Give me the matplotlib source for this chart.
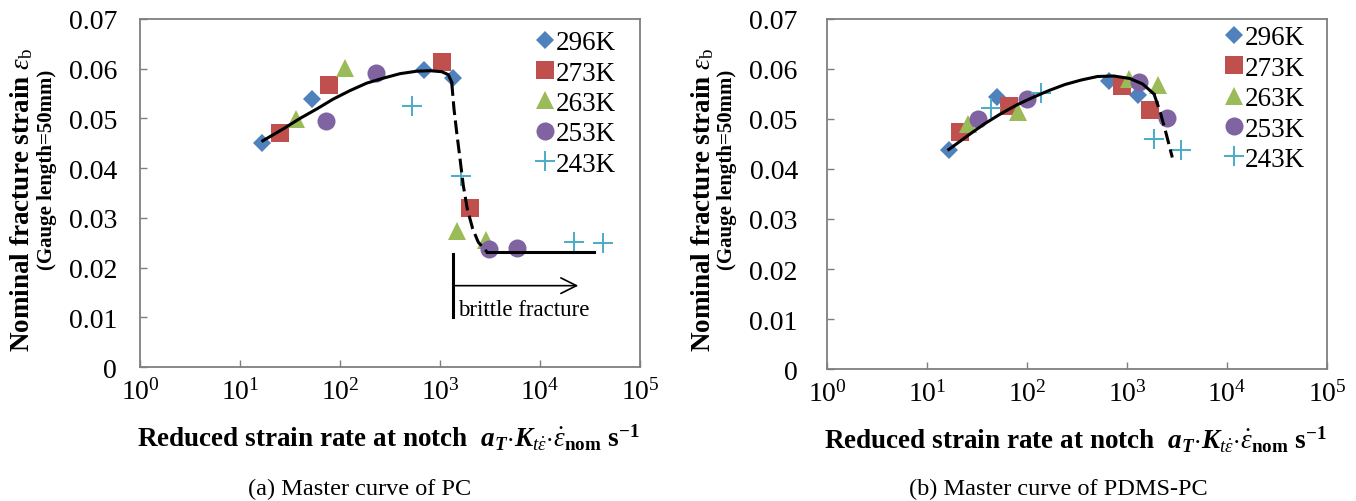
import matplotlib
matplotlib.use("Agg")
import matplotlib.pyplot as plt

plt.rcParams['font.family'] = ['Liberation Serif', 'DejaVu Serif']
plt.rcParams['mathtext.fontset'] = 'custom'
plt.rcParams['mathtext.rm'] = 'Liberation Serif'
plt.rcParams['mathtext.it'] = 'Liberation Serif:italic'
plt.rcParams['mathtext.bf'] = 'Liberation Serif:bold'
plt.rcParams['mathtext.bfit'] = 'Liberation Serif:italic:bold'

temps = ["296K", "273K", "263K", "253K", "243K"]
colors = ["#4F81BD", "#C0504D", "#9BBB59", "#8064A2", "#4BACC6"]
markers = ["D", "s", "^", "o", "+"]
msizes = [9.5, 12.5, 13, 13, 14]

# (a) PC: reduced strain rate and fracture strain per temperature
pc_rate = [
    [16.7, 52, 692, 1340],
    [24.9, 77.6, 1040, 1995],
    [36.3, 113, 1490, 2864],
    [73, 227, 3070, 5845],
    [521, 1610, 21900, 42300],
]
pc_strain = [
    [0.0451, 0.0539, 0.0598, 0.0581],
    [0.0470, 0.0567, 0.0613, 0.0320],
    [0.0499, 0.0602, 0.0274, 0.0256],
    [0.0494, 0.0592, 0.0237, 0.0240],
    [0.0525, 0.0385, 0.0252, 0.0249],
]
# master curve of PC (ductile branch, transition, brittle plateau)
pc_fit_x = [16.9, 27.1, 39.8, 58.5, 85.7, 126, 185, 271, 398, 585, 794, 1040, 1211, 1309]
pc_fit_y = [0.0455, 0.0479, 0.0500, 0.0519, 0.0539, 0.0556, 0.0571, 0.0581, 0.0590,
            0.0595, 0.0596, 0.0594, 0.0588, 0.0573]
pc_trans_x = [1309, 1380, 1469, 1585, 1710, 1875, 2123, 2415, 2931]
pc_trans_y = [0.0573, 0.0519, 0.0472, 0.0419, 0.0365, 0.0318, 0.0278, 0.0251, 0.0232]
pc_brittle_x = [2931, 34700]
pc_brittle_y = [0.0232, 0.0232]

# (b) PDMS-PC
pd_rate = [
    [16.5, 50.4, 666, 1286],
    [21.3, 66, 890, 1690],
    [25.7, 80.6, 1040, 2040],
    [32, 99.6, 1316, 2520],
    [43.8, 138, 1842, 3445],
]
pd_strain = [
    [0.0439, 0.0545, 0.0577, 0.0549],
    [0.0475, 0.0527, 0.0567, 0.0519],
    [0.0490, 0.0515, 0.0580, 0.0568],
    [0.0500, 0.0540, 0.0575, 0.0503],
    [0.0523, 0.0553, 0.0461, 0.0439],
]
pd_fit_x = [16.5, 25.7, 37.3, 54.2, 78.7, 114, 166, 240, 349, 507, 735, 1067, 1435, 1862]
pd_fit_y = [0.0439, 0.0467, 0.0490, 0.0510, 0.0528, 0.0543, 0.0557, 0.0569, 0.0578,
            0.0585, 0.0586, 0.0581, 0.0570, 0.0550]
pd_drop_x = [1862, 2138, 2455, 2838]
pd_drop_y = [0.0550, 0.0515, 0.0472, 0.0423]

fig = plt.figure(figsize=(13.56, 5.02), dpi=100)
ax1 = fig.add_axes([140 / 1356, 134 / 502, 500 / 1356, 348 / 502])
ax2 = fig.add_axes([827 / 1356, 132 / 502, 500 / 1356, 350 / 502])


def style_axes(ax, ypad):
    ax.set_xscale("log")
    ax.set_xlim(1, 1e5)
    ax.set_ylim(0, 0.07)
    ax.set_yticks([0, 0.01, 0.02, 0.03, 0.04, 0.05, 0.06, 0.07])
    ax.set_yticklabels(["0", "0.01", "0.02", "0.03", "0.04", "0.05", "0.06", "0.07"])
    ax.set_xticks([1, 10, 100, 1e3, 1e4, 1e5])
    ax.set_xticklabels([r"$10^{%d}$" % i for i in range(6)])
    ax.minorticks_off()
    for sp in ax.spines.values():
        sp.set_color("#7f7f7f")
        sp.set_linewidth(1.3)
    ax.tick_params(axis="both", direction="in", length=5, width=1, color="#7f7f7f",
                   labelsize=20)
    ax.tick_params(axis="y", pad=ypad)
    ax.tick_params(axis="x", pad=8)


def draw_points(ax, rates, strains):
    for i in range(len(temps)):
        if markers[i] == "+":
            ax.plot(rates[i], strains[i], ls="none", marker="+", ms=msizes[i],
                    mew=1.4, color=colors[i], label=temps[i], zorder=3)
        else:
            ax.plot(rates[i], strains[i], ls="none", marker=markers[i], ms=msizes[i],
                    mew=0, color=colors[i], label=temps[i], zorder=3)


def add_legend(ax, anchor):
    ax.legend(loc="upper right", bbox_to_anchor=anchor, frameon=False, fontsize=19.5,
              handlelength=0.7, handletextpad=0.05, labelspacing=0.2, borderaxespad=0,
              borderpad=0)


# panel (a)
style_axes(ax1, 16.5)
draw_points(ax1, pc_rate, pc_strain)
ax1.plot(pc_fit_x, pc_fit_y, color="black", lw=2.2, zorder=4)
ax1.plot(pc_trans_x, pc_trans_y, color="black", lw=2.2, dashes=(4.5, 1.8), zorder=4)
ax1.plot(pc_brittle_x, pc_brittle_y, color="black", lw=2.2, zorder=4)
ax1.plot([1358, 1358], [0.0100, 0.0227], color="black", lw=2.2)
ax1.annotate("", xy=(24150, 0.01636), xytext=(1358, 0.01636),
             arrowprops=dict(arrowstyle="->", lw=1.2, color="black",
                             mutation_scale=28, shrinkA=0, shrinkB=0))
ax1.text(1520, 0.0115, "brittle fracture", fontsize=16.5, va="center", ha="left")
add_legend(ax1, (0.952, 0.968))

# panel (b)
style_axes(ax2, 21)
draw_points(ax2, pd_rate, pd_strain)
ax2.plot(pd_fit_x, pd_fit_y, color="black", lw=2.2, zorder=4)
ax2.plot(pd_drop_x, pd_drop_y, color="black", lw=2.2, dashes=(4.5, 1.8), zorder=4)
add_legend(ax2, (0.956, 0.982))

# axis titles and captions
ylab = r"Nominal fracture strain $\varepsilon_\mathrm{b}$"
xlab = (r"Reduced strain rate at notch  $\mathbfit{a}_{\mathbfit{T}}$$\cdot$"
        r"$\mathbfit{K}_{t\dot{\varepsilon}}$$\cdot$$\dot{\varepsilon}_{\mathbf{nom}}$ s$^{\mathbf{-1}}$")
for xm, xs, xc, yc, cap, capx in [(22, 47, 388, 438, "(a) Master curve of PC", 360),
                                  (703, 727, 1075, 440, "(b) Master curve of PDMS-PC", 1058)]:
    fig.text(xm / 1356, 1 - 200 / 502, ylab, rotation=90, fontsize=19.5, fontweight="bold",
             ha="center", va="center")
    fig.text(xs / 1356, 1 - 170 / 502, "(Gauge length=50mm)", rotation=90, fontsize=15,
             fontweight="bold", ha="center", va="center")
    fig.text(xc / 1356, 1 - yc / 502, xlab, fontsize=19.5, fontweight="bold",
             ha="center", va="center")
    fig.text(capx / 1356, 1 - 489 / 502, cap, fontsize=17.5, ha="center", va="center")

fig.savefig("out.png", dpi=100)
